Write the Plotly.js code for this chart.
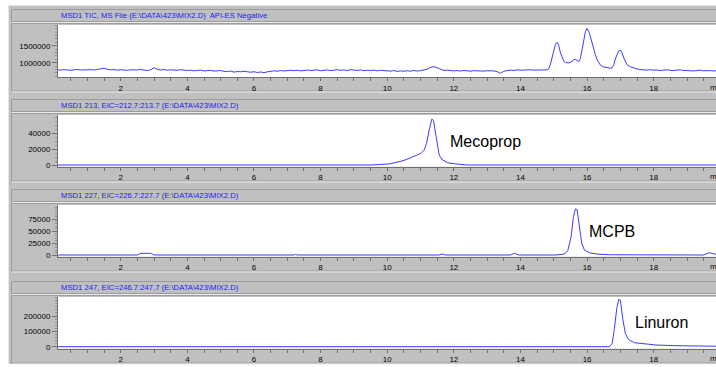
<!DOCTYPE html>
<html><head><meta charset="utf-8">
<script src="https://cdn.plot.ly/plotly-3.0.1.min.js"></script>
<style>html,body{margin:0;padding:0;background:#fff;}#chart{width:716px;height:367px;}</style>
</head><body><div id="chart"></div>
<script>
// ---------- DATA ----------
const panelTitles = [
  "MSD1 TIC, MS File (E:\\DATA\\423\\MIX2.D)  API-ES Negative",
  "MSD1 213, EIC=212.7:213.7 (E:\\DATA\\423\\MIX2.D)",
  "MSD1 227, EIC=226.7:227.7 (E:\\DATA\\423\\MIX2.D)",
  "MSD1 247, EIC=246.7:247.7 (E:\\DATA\\423\\MIX2.D)"
];
const peakNames = ["Mecoprop", "MCPB", "Linuron"];
const xTickVals = [2, 4, 6, 8, 10, 12, 14, 16, 18];
const yTickVals1 = [1000000, 1500000];
const yTickVals2 = [0, 20000, 40000];
const yTickVals3 = [0, 25000, 50000, 75000];
const yTickVals4 = [0, 100000, 200000];

// TIC trace (minutes, counts)
const ticTime = [
 0.12,0.2,0.3,0.4,0.5,0.6,0.7,0.8,0.9,1.0,
 1.1,1.2,1.3,1.4,1.5,1.6,1.7,1.8,1.9,2.0,
 2.1,2.2,2.3,2.4,2.5,2.6,2.7,2.8,2.9,3.0,
 3.1,3.2,3.3,3.4,3.5,3.6,3.7,3.8,3.9,4.0,
 4.1,4.2,4.3,4.4,4.5,4.6,4.7,4.8,4.9,5.0,
 5.1,5.2,5.3,5.4,5.5,5.6,5.7,5.8,5.9,6.0,
 6.1,6.2,6.3,6.4,6.5,6.6,6.7,6.8,6.9,7.0,
 7.1,7.2,7.3,7.4,7.5,7.6,7.7,7.8,7.9,8.0,
 8.1,8.2,8.3,8.4,8.5,8.6,8.7,8.8,8.9,9.0,
 9.1,9.2,9.3,9.4,9.5,9.6,9.7,9.8,9.9,10.0,
 10.1,10.2,10.3,10.4,10.5,10.6,10.7,10.8,10.9,11.0,
 11.1,11.2,11.3,11.4,11.5,11.6,11.7,11.8,11.9,12.0,
 12.1,12.2,12.3,12.4,12.5,12.6,12.7,12.8,12.9,13.0,
 13.1,13.2,13.3,13.4,13.5,13.6,13.7,13.8,13.9,14.0,
 14.1,14.2,14.3,14.4,14.5,14.6,14.7,14.8,
 14.85,14.9,14.95,15.0,15.05,15.1,15.15,15.2,15.25,15.3,15.35,15.4,15.45,15.5,15.55,15.6,15.65,15.7,15.75,
 15.8,15.85,15.9,15.95,16.0,16.05,16.1,16.15,16.2,16.25,16.3,16.35,16.4,16.5,16.6,16.7,16.75,
 16.8,16.85,16.9,16.95,17.0,17.05,17.1,17.15,17.2,17.3,17.4,17.5,17.6,17.7,17.8,17.9,18.0,
 18.1,18.2,18.3,18.4,18.5,18.6,18.7,18.8,18.9,19.0,19.1,19.2,19.3,19.4,19.5,19.6,19.7,19.8,19.9
];
const ticCounts = [
 790000,782000,795000,788000,776000,792000,800000,785000,779000,791000,
 796000,784000,803000,812000,838000,806000,790000,798000,781000,794000,
 788000,775000,792000,780000,786000,799000,783000,770000,790000,852000,
 805000,786000,797000,779000,792000,784000,776000,795000,781000,770000,
 778000,762000,771000,784000,757000,768000,776000,752000,764000,770000,
 746000,738000,755000,722000,741000,733000,748000,726000,719000,735000,
 712000,728000,706000,731000,754000,762000,748000,770000,757000,766000,
 778000,764000,781000,759000,772000,785000,768000,775000,790000,762000,
 774000,786000,769000,781000,792000,776000,788000,771000,795000,783000,
 772000,788000,765000,779000,770000,784000,761000,776000,768000,758000,
 752000,768000,744000,759000,747000,763000,750000,771000,756000,765000,
 778000,810000,862000,884000,851000,805000,772000,780000,766000,759000,
 768000,754000,772000,761000,749000,766000,757000,770000,752000,763000,
 771000,758000,736000,690000,749000,776000,783000,768000,790000,779000,
 786000,774000,792000,781000,777000,795000,788000,790000,
 820000,960000,1180000,1390000,1540000,1600000,1500000,1290000,1130000,1040000,1005000,990000,995000,1010000,1050000,1085000,1100000,1065000,1030000,
 1120000,1380000,1650000,1910000,2010000,1920000,1760000,1570000,1390000,1230000,1090000,985000,930000,875000,850000,835000,850000,
 940000,1120000,1260000,1350000,1370000,1290000,1140000,1010000,940000,880000,840000,815000,800000,790000,782000,795000,778000,
 786000,770000,781000,792000,775000,768000,784000,790000,772000,765000,779000,758000,770000,781000,762000,774000,768000,756000,771000
];

// EIC 213 (Mecoprop)
const eic213Time = [0.12,0.5,0.55,0.6,1.3,1.35,1.4,3.2,3.25,3.3,5.0,5.05,5.1,6.8,6.85,6.9,
 9.5,10.06,10.26,10.47,10.66,10.86,11.01,11.11,11.18,11.26,11.34,11.39,11.44,11.49,11.56,11.66,11.81,12.06,12.4,
 14.0,16.5,16.55,16.6,18.5,18.55,18.6,19.9];
const eic213Counts = [0,0,700,0,0,600,0,0,700,0,0,600,0,0,700,0,
 0,1300,2900,5400,8400,11800,14700,18900,27300,44200,58000,56000,44200,27300,12600,6300,2900,1300,0,
 0,0,600,0,0,600,0,0];

// EIC 227 (MCPB)
const eic227Time = [0.12,1.0,1.05,1.1,2.5,2.6,2.75,2.9,3.0,5.0,5.05,5.1,7.2,7.25,7.3,
 11.55,11.65,11.75,13.7,13.82,13.95,15.07,15.32,15.42,15.52,15.59,15.65,15.7,15.77,15.84,15.92,16.07,16.27,16.67,
 19.5,19.67,19.82,19.9];
const eic227Counts = [0,0,1000,0,0,3500,3000,3500,0,0,-800,0,0,1200,0,
 0,2000,0,0,3500,0,0,2000,9000,38000,80000,96000,94000,59000,24300,10400,4900,2000,500,
 0,4900,2000,1500];

// EIC 247 (Linuron)
const eic247Time = [0.12,16.67,16.75,16.82,16.89,16.95,17.0,17.07,17.15,17.25,17.42,17.67,18.07,18.67,19.6,19.9];
const eic247Counts = [0,0,19500,117000,248000,308000,303000,182000,85000,45600,26000,19500,11000,6500,4300,3000];

// ---------- LAYOUT (pixel geometry) ----------
const W = 716, H = 367;
const px = v => v / W;
const py = v => 1 - v / H;
const plotLeft = 58;
const panelTop = [0, 90, 180, 272];            // panel offsets
const plotTops = [25, 115, 205, 297];
const plotBots = [77, 166.7, 256.7, 348.7];
const xRange = [0.117, 19.87];
const yRanges = [[579400, 2108800], [-2145, 63090], [-3540, 104170], [-13030, 323800]];
const yMinor = [100000, 5000, 5000, 20000];
const yTicks = [yTickVals1, yTickVals2, yTickVals3, yTickVals4];

const lineBlue = '#3b3bff';
const font = 'Liberation Sans, Arial, sans-serif';

const series = [[ticTime, ticCounts], [eic213Time, eic213Counts], [eic227Time, eic227Counts], [eic247Time, eic247Counts]];
const traces = series.map((s, i) => ({
  x: s[0], y: s[1], type: 'scatter', mode: 'lines',
  line: {color: lineBlue, width: 1},
  xaxis: 'x' + (i ? i + 1 : ''), yaxis: 'y' + (i ? i + 1 : ''),
  hoverinfo: 'skip', showlegend: false
}));

const layout = {
  width: W, height: H, margin: {l: 0, r: 0, t: 0, b: 0},
  paper_bgcolor: '#ffffff', plot_bgcolor: 'rgba(0,0,0,0)',
  font: {family: font, size: 8, color: '#000'},
  shapes: [], annotations: [], showlegend: false
};

// gray frame
layout.shapes.push({type: 'rect', xref: 'paper', yref: 'paper', x0: px(8), x1: px(720), y0: py(5), y1: py(364),
  fillcolor: '#c0c0c0', line: {width: 0}, layer: 'below'});
layout.shapes.push({type: 'line', xref: 'paper', yref: 'paper', x0: px(8.5), x1: px(8.5), y0: py(5), y1: py(364),
  line: {color: '#e6e6e6', width: 1}, layer: 'below'});
layout.shapes.push({type: 'line', xref: 'paper', yref: 'paper', x0: px(8), x1: px(720), y0: py(5.5), y1: py(5.5),
  line: {color: '#e6e6e6', width: 1}, layer: 'below'});

for (let i = 0; i < 4; i++) {
  const T = panelTop[i];
  const ax = i ? String(i + 1) : '';
  // header box
  layout.shapes.push({type: 'rect', xref: 'paper', yref: 'paper', x0: px(11.5), x1: px(722), y0: py(T + 21.5), y1: py(T + 9.5),
    fillcolor: '#c0c0c0', line: {color: '#9c9c9c', width: 1}, layer: 'below'});
  layout.shapes.push({type: 'line', xref: 'paper', yref: 'paper', x0: px(12), x1: px(722), y0: py(T + 22.5), y1: py(T + 22.5),
    line: {color: '#ececec', width: 1}, layer: 'below'});
  // body box
  layout.shapes.push({type: 'rect', xref: 'paper', yref: 'paper', x0: px(11.5), x1: px(722), y0: py(T + 91), y1: py(T + 23.5),
    fillcolor: '#c0c0c0', line: {color: '#9c9c9c', width: 1}, layer: 'below'});
  layout.shapes.push({type: 'line', xref: 'paper', yref: 'paper', x0: px(12), x1: px(722), y0: py(T + 92), y1: py(T + 92),
    line: {color: '#ececec', width: 1}, layer: 'below'});
  // white plot area
  layout.shapes.push({type: 'rect', xref: 'paper', yref: 'paper', x0: px(plotLeft), x1: px(722), y0: py(plotBots[i]), y1: py(plotTops[i]),
    fillcolor: '#ffffff', line: {width: 0}, layer: 'below'});

  layout['xaxis' + ax] = {
    domain: [px(plotLeft), 1], range: xRange, anchor: 'y' + ax,
    showgrid: false, zeroline: false, showline: true, linecolor: '#707070', linewidth: 1,
    tickmode: 'array', tickvals: xTickVals, ticks: 'outside', ticklen: 3, tickcolor: '#707070',
    minor: {dtick: 0.5, tick0: 0, ticks: 'outside', ticklen: 3, tickcolor: '#707070'},
    tickfont: {family: font, size: 8, color: '#000'}, fixedrange: true
  };
  layout['yaxis' + ax] = {
    domain: [py(plotBots[i]), py(plotTops[i])], range: yRanges[i], anchor: 'x' + ax,
    showgrid: false, zeroline: false, showline: true, linecolor: '#707070', linewidth: 1,
    tickmode: 'array', tickvals: yTicks[i], ticks: 'outside', ticklen: 5, tickcolor: '#707070',
    minor: {dtick: yMinor[i], tick0: 0, ticks: 'outside', ticklen: 2, tickcolor: '#909090'},
    tickfont: {family: font, size: 8, color: '#000'}, tickformat: 'd', fixedrange: true
  };
  // header title
  layout.annotations.push({xref: 'paper', yref: 'paper', x: px(59), y: py(T + 15.5), xanchor: 'left', yanchor: 'middle',
    text: panelTitles[i], showarrow: false, font: {family: font, size: 7.7, color: '#2222ee'}});
  // "min" unit label (cut at the right edge, as in the source screenshot)
  layout.annotations.push({xref: 'paper', yref: 'paper', x: px(708), y: py(plotBots[i] + 10), xanchor: 'left', yanchor: 'middle',
    text: 'min', showarrow: false, font: {family: font, size: 8, color: '#000'}});
}

// compound labels
const labelPos = [[448, 141.7], [587, 231.7], [633, 322.7]];
peakNames.forEach((name, k) => {
  layout.annotations.push({xref: 'paper', yref: 'paper', x: px(labelPos[k][0]), y: py(labelPos[k][1]),
    xanchor: 'left', yanchor: 'middle', text: name, showarrow: false,
    font: {family: font, size: 16, color: '#000'}});
});

Plotly.newPlot('chart', traces, layout, {staticPlot: true, displayModeBar: false});
</script>
</body></html>
